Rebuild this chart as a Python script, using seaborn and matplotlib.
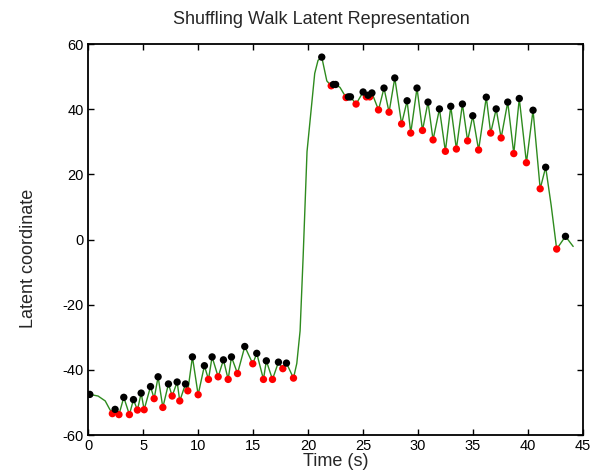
import seaborn as sns
import matplotlib
matplotlib.use('Agg')
import matplotlib.pyplot as plt
import pandas as pd

# local maxima (black) and minima (red)
peak_t = [0.15, 2.45, 3.24, 4.12, 4.82, 5.67, 6.36, 7.3, 8.09, 8.85, 9.48, 10.57, 11.27,
          12.3, 13.03, 14.24, 15.33, 16.2, 17.3, 18.03, 21.24, 22.3, 22.5, 23.66, 23.85,
          25.0, 25.45, 25.8, 26.9, 27.88, 29.0, 29.9, 30.9, 31.94, 32.97, 34.03, 34.97,
          36.2, 37.1, 38.15, 39.2, 40.45, 41.6, 43.4]
peak_y = [-47.5, -52.1, -48.4, -49.1, -47.1, -45.1, -42.1, -44.3, -43.7, -44.3, -36.0, -38.7, -36.0,
          -36.9, -36.0, -32.8, -34.9, -37.2, -37.6, -37.9, 56.0, 47.6, 47.6, 43.8, 43.8,
          45.3, 44.3, 45.0, 46.5, 49.6, 42.6, 46.5, 42.2, 40.1, 40.9, 41.6, 38.0,
          43.7, 40.1, 42.2, 43.3, 39.7, 22.2, 1.0]

trough_t = [2.2, 2.8, 3.75, 4.48, 5.09, 6.0, 6.79, 7.64, 8.33, 9.06, 10.0, 10.94, 11.82,
            12.73, 13.58, 14.97, 15.94, 16.76, 17.7, 18.67, 22.1, 23.45, 24.36, 25.3, 25.6,
            26.4, 27.36, 28.5, 29.33, 30.4, 31.36, 32.48, 33.48, 34.5, 35.5, 36.6, 37.55,
            38.7, 39.85, 41.1, 42.6]
trough_y = [-53.4, -53.7, -53.7, -52.3, -52.2, -48.8, -51.5, -48.0, -49.5, -46.4, -47.6, -42.9, -42.1,
            -42.9, -41.1, -38.1, -42.9, -42.9, -39.6, -42.5, 47.2, 43.6, 41.6, 43.8, 43.8,
            39.8, 39.1, 35.5, 32.7, 33.5, 30.6, 27.1, 27.8, 30.3, 27.5, 32.7, 31.2,
            26.4, 23.6, 15.6, -2.9]

# extra points along the trace between extrema
extra_t = [0.9, 1.55, 1.95, 18.97, 19.27, 19.55, 19.9, 20.6, 20.9, 21.7, 22.9, 42.1, 44.1]
extra_y = [-48.0, -49.5, -52.0, -38.0, -28.0, -5.0, 27.0, 51.0, 55.0, 48.7, 46.7, 10.5, -2.1]

line = pd.DataFrame({'t': peak_t + trough_t + extra_t,
                     'y': peak_y + trough_y + extra_y}).sort_values('t')
peaks = pd.DataFrame({'t': peak_t, 'y': peak_y})
troughs = pd.DataFrame({'t': trough_t, 'y': trough_y})

sns.set_style('ticks')
plt.rcParams['font.family'] = ['Liberation Sans', 'DejaVu Sans']
plt.rcParams['axes.unicode_minus'] = False

fig = plt.figure(figsize=(6.08, 4.74), dpi=100)
ax = fig.add_axes([0.145, 0.082, 0.814, 0.825])

sns.lineplot(data=line, x='t', y='y', sort=False, estimator=None,
             color='#2e8b1e', linewidth=1.0, ax=ax)
sns.scatterplot(data=troughs, x='t', y='y', color='red', s=28,
                edgecolor='none', ax=ax, zorder=3)
sns.scatterplot(data=peaks, x='t', y='y', color='black', s=28,
                edgecolor='none', ax=ax, zorder=3)

ax.set_xlim(0, 45)
ax.set_ylim(-60, 60)
ax.set_xticks(range(0, 46, 5))
ax.set_yticks(range(-60, 61, 20))
ax.tick_params(direction='in', top=True, right=True, length=4, width=1,
               labelsize=10.5, pad=3, colors='black')
for s in ax.spines.values():
    s.set_visible(True)
    s.set_linewidth(1.3)
    s.set_color('black')

fig.text(321 / 608, 1 - 19 / 474, 'Shuffling Walk Latent Representation',
         fontsize=13, ha='center', va='center')
ax.set_xlabel('Time (s)', fontsize=13, labelpad=0)
ax.set_ylabel('Latent coordinate', fontsize=13)
ax.yaxis.set_label_coords(-0.103, 0.453)

fig.savefig('out.png', dpi=100)
